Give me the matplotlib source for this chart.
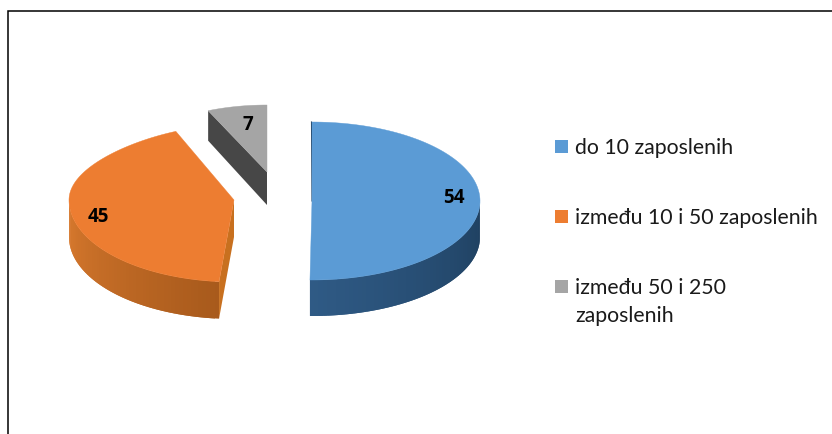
import numpy as np
import matplotlib
matplotlib.use("Agg")
import matplotlib.pyplot as plt
from matplotlib.patches import Polygon, Rectangle

# data
categories = ["do 10 zaposlenih", "između 10 i 50 zaposlenih", "između 50 i 250\nzaposlenih"]
values = [54, 45, 7]

top_colors = ["#5b9bd5", "#ed7d31", "#a5a5a5"]
# side gradient, start of arc -> end of arc (clockwise from 12 o'clock)
side_colors = [("#1e3f5f", "#2f5a85"), ("#a85a1c", "#d97a2e"), ("#3a3a3a", "#4a4a4a")]
cut_colors = ["#1f3f5f", "#c8701f", "#474747"]

# each exploded slice has its own projection in the old 3D chart
# cx, cy, rx, ry up, ry down, depth, taper
slice_geom = [
    (312, 201, 168, 79, 79, 36, 0.0),
    (234, 200, 165, 75, 82, 37, 0.15),
    (267, 172, 146, 67, 67, 33, 0.0),
]
# small angle corrections for the projection, degrees at start / end of slice
angle_shift = [(0, -2.7), (1.8, 0), (0, 0)]
label_pos = [(454, 198), (98, 217), (248, 125)]
legend_y = [146.5, 216.5, 286.5]


def rim(t, geom):
    cx, cy, rx, ry_up, ry_down, depth, taper = geom
    c = np.cos(t)
    s = np.sin(t)
    up = np.clip(c, 0, None)
    x = cx + rx * s * (1 - taper * up * up)
    y = cy - np.where(c > 0, ry_up, ry_down) * c
    return x, y


def mix(c1, c2, f):
    a = np.array(matplotlib.colors.to_rgb(c1))
    b = np.array(matplotlib.colors.to_rgb(c2))
    return a + (b - a) * f


fig = plt.figure(figsize=(8.32, 4.34), dpi=100)
ax = fig.add_axes([0, 0, 1, 1])
ax.set_xlim(0, 832)
ax.set_ylim(434, 0)
ax.axis("off")

# chart frame: top and left only, the rest is cut off
ax.plot([8, 8, 832], [434, 11, 11], color="black", lw=1.1, solid_capstyle="butt", solid_joinstyle="miter")

edges = np.cumsum([0] + values) / sum(values) * 2 * np.pi
for i in range(len(values)):
    geom = slice_geom[i]
    cx, cy, depth = geom[0], geom[1], geom[5]
    t0 = edges[i] + np.radians(angle_shift[i][0])
    t1 = edges[i + 1] + np.radians(angle_shift[i][1])
    t = np.linspace(t0, t1, 120)
    x, y = rim(t, geom)

    # outer wall, only the front half shows
    lo, hi = max(t0, np.pi / 2), min(t1, 3 * np.pi / 2)
    if hi > lo:
        n = 60
        ts = np.linspace(lo, hi, n + 1)
        for j in range(n):
            # overlap the next strip so no seams show
            tt = np.linspace(ts[j], ts[min(j + 2, n)], 4)
            xs, ys = rim(tt, geom)
            col = mix(side_colors[i][0], side_colors[i][1], j / (n - 1))
            pts = np.column_stack([np.r_[xs, xs[::-1]], np.r_[ys, ys[::-1] + depth]])
            ax.add_patch(Polygon(pts, closed=True, fc=col, ec="none", zorder=2))

    # cut face towards the viewer
    ex, ey = rim(t0, geom)
    if i == 1:
        ax.add_patch(Polygon([(cx, cy), (ex, ey), (ex, ey + depth), (cx, cy + depth)],
                             closed=True, fc=cut_colors[i], ec="none", zorder=2))
    if i == 2:
        ax.add_patch(Polygon([(cx, cy), (ex, ey), (ex, ey + depth - 3), (cx, cy + depth)],
                             closed=True, fc=cut_colors[i], ec="none", zorder=2))
    if i == 0:
        ax.plot([cx, ex - 0.5], [cy, ey], color=cut_colors[i], lw=0.8, zorder=2)

    pts = np.column_stack([np.r_[cx, x], np.r_[cy, y]])
    ax.add_patch(Polygon(pts, closed=True, fc=top_colors[i], ec=top_colors[i], lw=0.3, zorder=3))

    ax.text(label_pos[i][0], label_pos[i][1], str(values[i]), ha="center", va="center",
            fontsize=13.5, fontweight="bold", family="Open Sans", color="black", zorder=5)

# legend
for i, name in enumerate(categories):
    ax.add_patch(Rectangle((555, legend_y[i] - 6.5), 13, 13, fc=top_colors[i], ec="none"))
    ax.text(575, legend_y[i] - 9, name, ha="left", va="top", fontsize=15.3, family="Lato",
            color="#1a1a1a", linespacing=1.5)

fig.savefig("out.png", dpi=100)
